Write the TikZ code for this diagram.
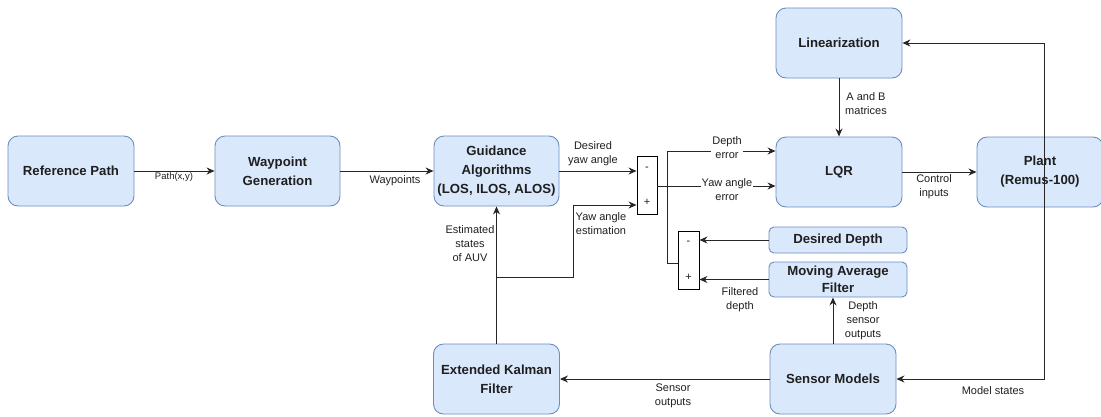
\documentclass[tikz,border=0pt]{standalone}
\usepackage{fontspec}
\setmainfont{Liberation Sans}
\usetikzlibrary{arrows.meta}
\definecolor{fillc}{HTML}{DAE8FC}
\definecolor{bordc}{HTML}{6C8EBF}
\definecolor{txt}{HTML}{1F1F1F}
\begin{document}
\begin{tikzpicture}[x=1pt,y=-1pt,
 blk/.style={draw=bordc, fill=fillc, rounded corners=10pt, line width=0.9pt, align=center,
   font=\fontsize{13.2}{19}\selectfont\bfseries, text=txt, inner sep=0pt,
   minimum width=126pt, minimum height=70pt},
 sumb/.style={draw=black, fill=white, line width=0.9pt, minimum width=20pt, minimum height=58pt, inner sep=0pt},
 sgn/.style={font=\fontsize{11}{12}\selectfont, text=txt, inner sep=0pt},
 conn/.style={line width=1pt, draw=black!85},
 arr/.style={conn, -{Stealth[length=8pt,width=7pt]}},
 lbl/.style={font=\fontsize{11}{14}\selectfont, text=txt, align=center, inner sep=1pt},
 wlbl/.style={lbl, fill=white}]
\useasboundingbox (0,0) rectangle (1101,416);

% blocks
\node[blk] (ref) at (71,171) {Reference Path};
\node[blk, minimum width=125pt] (wp) at (277.5,171) {Waypoint\\Generation};
\node[blk, minimum width=125pt] (guid) at (496.5,171) {Guidance\\Algorithms\\(LOS, ILOS, ALOS)};
\node[blk] (lin) at (839,43) {Linearization};
\node[blk] (lqr) at (839,172) {LQR};
\node[blk] (plant) at (1040,172) {Plant\\(Remus-100)};
\node[blk, minimum width=138pt, minimum height=26pt, rounded corners=5pt] (dd) at (838,240) {Desired Depth};
\node[blk, minimum width=138pt, minimum height=35pt, rounded corners=5pt, font=\fontsize{13.2}{17}\selectfont\bfseries] (maf) at (838,279.5) {Moving Average\\Filter};
\node[blk] (ekf) at (496.5,379) {Extended Kalman\\Filter};
\node[blk] (sm) at (833,379) {Sensor Models};

% summing blocks
\node[sumb] (sum1) at (647,185) {};
\node[sgn] (s1m) at (647,169) {-};
\node[sgn] (s1p) at (647,202) {+};
\node[sumb, minimum width=21pt] (sum2) at (688.5,260) {};
\node[sgn] (s2m) at (688.5,243) {-};
\node[sgn] (s2p) at (688.5,277) {+};

% helper coordinates
\coordinate (j1) at (497,277);
\coordinate (e1) at (573,277);
\coordinate (e2) at (573,205);
\coordinate (s1o) at (657,186);
\coordinate (s2o) at (678,263);
\coordinate (k1) at (667,263);
\coordinate (k2) at (667,151);
\coordinate (pb) at (1044,207);

% connectors
\draw[arr] (ref.east) -- (wp.west);
\draw[arr] (wp.east) -- (guid.west);
\draw[arr] (guid.east) -- (guid.east -| sum1.west);
\draw[arr] (ekf.north) -- (guid.south);
\draw[arr] (j1) -- (e1) -- (e2) -- (e2 -| sum1.west);
\draw[arr] (s1o) -- (s1o -| lqr.west);
\draw[arr] (s2o) -- (k1) -- (k2) -- (k2 -| lqr.west);
\draw[arr] (dd.west) -- (dd.west -| sum2.east);
\draw[arr] (maf.west) -- (maf.west -| sum2.east);
\draw[arr] (lin.south) -- (lqr.north);
\draw[arr] (lqr.east) -- (lqr.east -| plant.west);
\draw[arr] (pb) |- (lin.east);
\draw[arr] (pb) |- (sm.east);
\draw[arr] (sm.west) -- (ekf.east);
\draw[arr] (sm.north) -- (sm.north |- maf.south);

% labels
\node[lbl, font=\fontsize{9.5}{12}\selectfont] (lpath) at (174,177) {Path(x,y)};
\node[lbl] (lwp) at (395,181) {Waypoints};
\node[lbl] (ldya) at (593,154) {Desired\\yaw angle};
\node[lbl] (lyae) at (601,223.5) {Yaw angle\\estimation};
\node[lbl] (lest) at (470,244) {Estimated\\states\\of AUV};
\node[wlbl] (lde) at (727,148) {Depth\\error};
\node[wlbl] (lye) at (727,190) {Yaw angle\\error};
\node[lbl] (lab) at (866,104) {A and B\\matrices};
\node[lbl] (lci) at (934,187) {Control\\inputs};
\node[lbl] (lfd) at (740,299.5) {Filtered\\depth};
\node[lbl] (ldso) at (863,321) {Depth\\sensor\\outputs};
\node[lbl] (lso) at (673,396) {Sensor\\outputs};
\node[lbl] (lms) at (993,391) {Model states};
\end{tikzpicture}
\end{document}
